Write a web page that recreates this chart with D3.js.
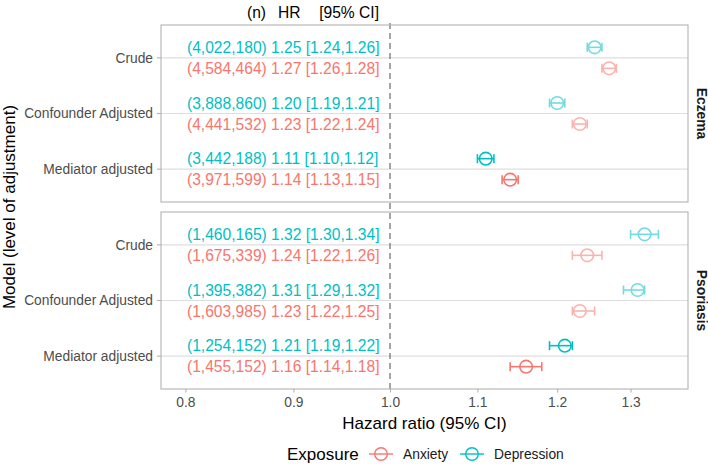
<!DOCTYPE html>
<html><head><meta charset="utf-8">
<script src="https://cdn.jsdelivr.net/npm/d3@7"></script>
<style>body{margin:0;background:#fff}svg{display:block;font-family:"Liberation Sans",Arial,sans-serif}</style>
</head><body>
<svg id="c" width="708" height="464"></svg>
<script>
const models = ["Crude","Confounder Adjusted","Mediator adjusted"];
const conditions = ["Eczema","Psoriasis"];
const exposures = ["Anxiety","Depression"];
const xTicks = [0.8,0.9,1.0,1.1,1.2,1.3];
// per condition, per model
const depN  = [["4,022,180","3,888,860","3,442,188"],["1,460,165","1,395,382","1,254,152"]];
const depHR = [[1.25,1.20,1.11],[1.32,1.31,1.21]];
const depLo = [[1.24,1.19,1.10],[1.30,1.29,1.19]];
const depHi = [[1.26,1.21,1.12],[1.34,1.32,1.22]];
const anxN  = [["4,584,464","4,441,532","3,971,599"],["1,675,339","1,603,985","1,455,152"]];
const anxHR = [[1.27,1.23,1.14],[1.24,1.23,1.16]];
const anxLo = [[1.26,1.22,1.13],[1.22,1.22,1.14]];
const anxHi = [[1.28,1.24,1.15],[1.26,1.25,1.18]];

const colors = {Anxiety:"#F8766D", Depression:"#00BFC4"};
const svg = d3.select("#c");
const L = 161, R = 688;
const panels = [{top:25,bottom:202},{top:212,bottom:389}];
const x = d3.scaleLog().domain([0.779,1.384]).range([L,R]);
const fmt = v => v.toFixed(2);

const rows = [];
conditions.forEach((c,ci)=>{
  models.forEach((m,mi)=>{
    rows.push({ci,mi,exp:"Depression",n:depN[ci][mi],hr:depHR[ci][mi],lo:depLo[ci][mi],hi:depHi[ci][mi]});
    rows.push({ci,mi,exp:"Anxiety",n:anxN[ci][mi],hr:anxHR[ci][mi],lo:anxLo[ci][mi],hi:anxHi[ci][mi]});
  });
});

panels.forEach((p,ci)=>{
  const y = d3.scalePoint().domain(models).range([p.top,p.bottom]).padding(0.59);
  p.y = y;
  const g = svg.append("g");
  g.append("rect").attr("x",L).attr("y",p.top).attr("width",R-L).attr("height",p.bottom-p.top)
    .attr("fill","#fff");
  models.forEach(m=>{
    g.append("line").attr("x1",L).attr("x2",R).attr("y1",y(m)).attr("y2",y(m))
      .attr("stroke","#DEDEDE").attr("stroke-width",1.1);
    g.append("line").attr("x1",L-4).attr("x2",L).attr("y1",y(m)).attr("y2",y(m))
      .attr("stroke","#B3B3B3").attr("stroke-width",1.1);
    g.append("text").attr("x",L-8).attr("y",y(m)).attr("dy","0.35em").attr("text-anchor","end")
      .attr("font-size",13.8).attr("fill","#4D4D4D").text(m);
  });
  g.append("text").attr("transform",`translate(702,${(p.top+p.bottom)/2}) rotate(90)`)
    .attr("text-anchor","middle").attr("dy","0.35em").attr("font-size",13.8).attr("font-weight","bold")
    .attr("fill","#1a1a1a").text(conditions[ci]);
});

// dashed reference line
svg.append("line").attr("x1",x(1)).attr("x2",x(1)).attr("y1",23).attr("y2",390)
  .attr("stroke","#7f7f7f").attr("stroke-width",1.4).attr("stroke-dasharray","6,4");

rows.forEach(r=>{
  const p = panels[r.ci];
  const yy = p.y(models[r.mi]) + (r.exp==="Depression" ? -10.5 : 10.5);
  const col = colors[r.exp];
  svg.append("text").attr("x",L+26).attr("y",yy).attr("dy","0.36em").attr("font-size",15.6)
    .attr("fill",col).text(`(${r.n}) ${fmt(r.hr)} [${fmt(r.lo)},${fmt(r.hi)}]`);
  const g = svg.append("g").attr("opacity", r.mi===2 ? 1 : 0.55);
  g.append("line").attr("x1",x(r.lo)).attr("x2",x(r.hi)).attr("y1",yy).attr("y2",yy)
    .attr("stroke",col).attr("stroke-width",1.6);
  [r.lo,r.hi].forEach(v=>g.append("line").attr("x1",x(v)).attr("x2",x(v)).attr("y1",yy-4.5).attr("y2",yy+4.5)
    .attr("stroke",col).attr("stroke-width",1.6));
  g.append("circle").attr("cx",x(r.hr)).attr("cy",yy).attr("r",6.3)
    .attr("fill","none").attr("stroke",col).attr("stroke-width",1.6);
});

panels.forEach(p=>{
  svg.append("rect").attr("x",L).attr("y",p.top).attr("width",R-L).attr("height",p.bottom-p.top)
    .attr("fill","none").attr("stroke","#B3B3B3").attr("stroke-width",1.1);
});

// header
const hy = 12;
svg.append("text").attr("x",266).attr("y",hy).attr("dy","0.36em").attr("text-anchor","end").attr("font-size",15.6).text("(n)");
svg.append("text").attr("x",278).attr("y",hy).attr("dy","0.36em").attr("font-size",15.6).text("HR");
svg.append("text").attr("x",379).attr("y",hy).attr("dy","0.36em").attr("text-anchor","end").attr("font-size",15.6).text("[95% CI]");

// x axis
const ax = svg.append("g").attr("transform",`translate(0,389)`)
  .call(d3.axisBottom(x).tickValues(xTicks).tickFormat(d3.format(".1f")).tickSize(3.5).tickPadding(5));
ax.select(".domain").remove();
ax.selectAll(".tick line").attr("stroke","#B3B3B3").attr("stroke-width",1.1);
ax.selectAll(".tick text").attr("font-size",13.8).attr("fill","#4D4D4D").attr("font-family","Liberation Sans, Arial, sans-serif");

svg.append("text").attr("x",(L+R)/2).attr("y",423).attr("dy","0.36em").attr("text-anchor","middle")
  .attr("font-size",17).text("Hazard ratio (95% CI)");
svg.append("text").attr("transform","translate(9,207) rotate(-90)").attr("dy","0.36em").attr("text-anchor","middle")
  .attr("font-size",17).text("Model (level of adjustment)");

// legend
const ly = 454;
svg.append("text").attr("x",287).attr("y",ly).attr("dy","0.36em").attr("font-size",17).text("Exposure");
const legX = {Anxiety:369, Depression:460};
exposures.forEach(e=>{
  const x0 = legX[e], col = colors[e];
  svg.append("line").attr("x1",x0).attr("x2",x0+24).attr("y1",ly).attr("y2",ly).attr("stroke",col).attr("stroke-width",1.4);
  svg.append("circle").attr("cx",x0+12).attr("cy",ly).attr("r",6.3).attr("fill","none").attr("stroke",col).attr("stroke-width",1.4);
  svg.append("text").attr("x",x0+34).attr("y",ly).attr("dy","0.36em").attr("font-size",13.8).attr("fill","#1a1a1a").text(e);
});
</script>
</body></html>
